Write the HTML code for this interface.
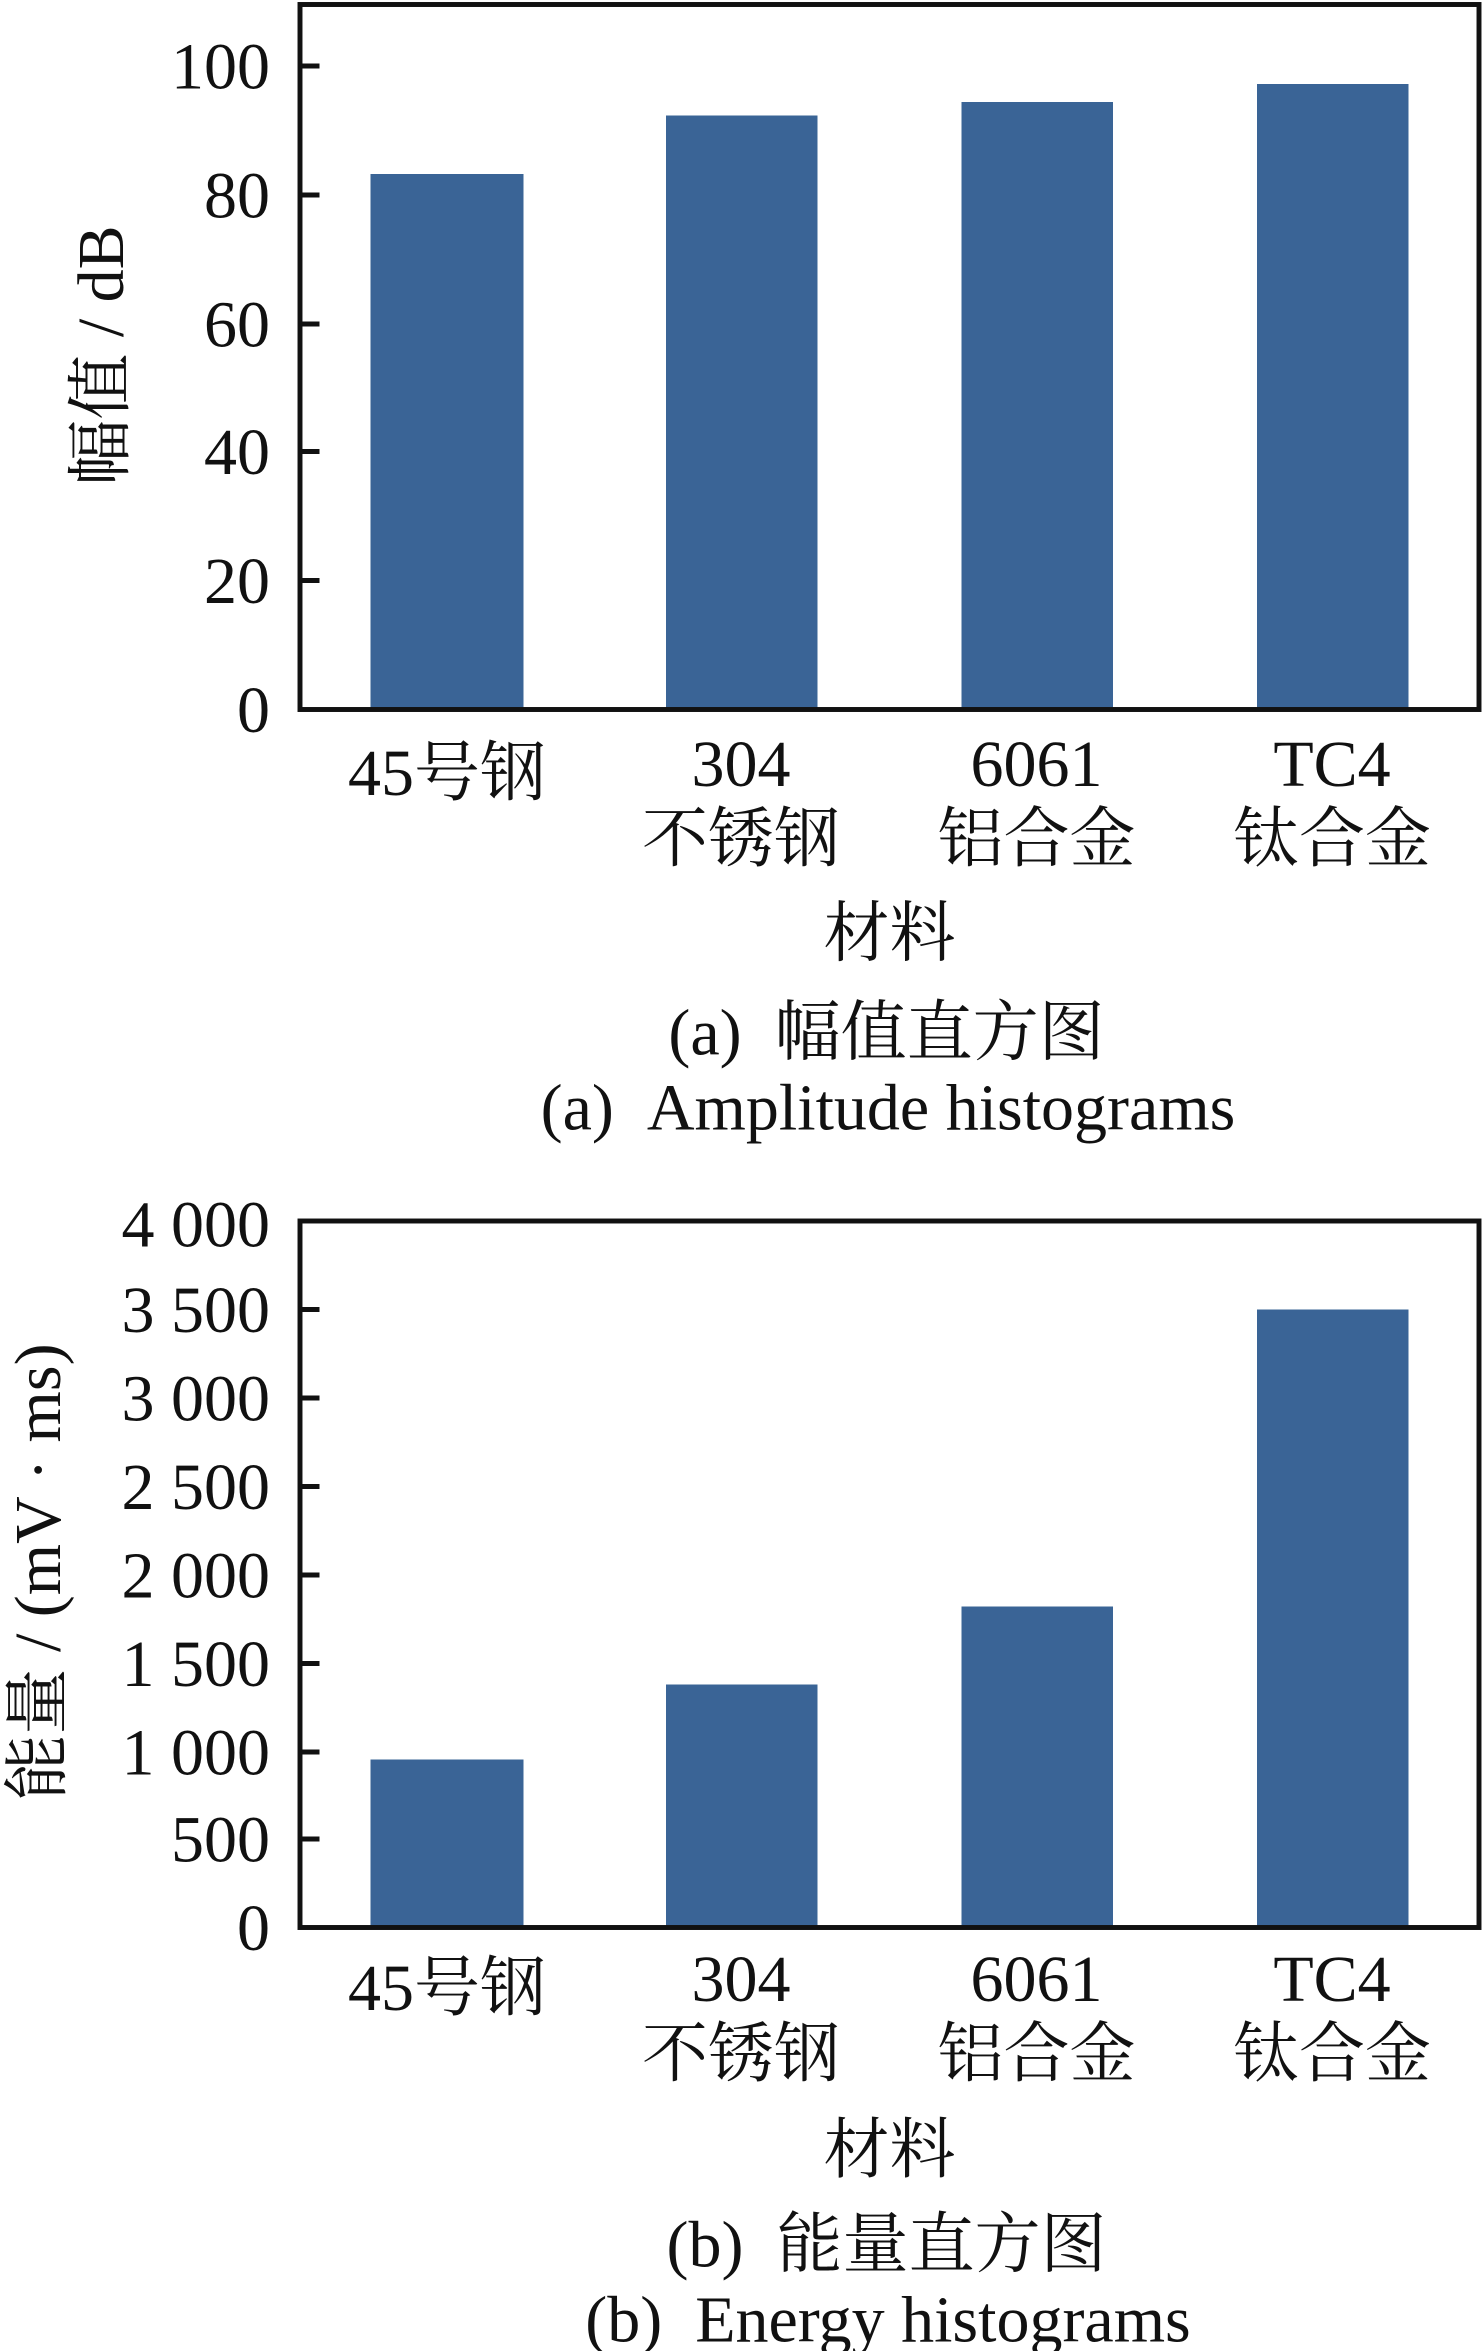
<!DOCTYPE html>
<html><head><meta charset="utf-8"><style>html,body{margin:0;padding:0;background:#fff}svg{display:block}</style></head><body>
<svg width="1482" height="2351" viewBox="0 0 988 1567.33" preserveAspectRatio="none" xmlns="http://www.w3.org/2000/svg">
<g font-family="'Liberation Serif','Noto Serif CJK SC',serif" fill="#111">
<!-- Chart A -->
<g fill="#3a6496">
<rect x="247" y="116" width="102" height="357"/>
<rect x="444" y="77" width="101" height="396"/>
<rect x="641" y="68" width="101" height="405"/>
<rect x="838" y="56" width="101" height="417"/>
</g>
<rect x="200" y="3" width="786" height="470" fill="none" stroke="#111" stroke-width="3.3"/>
<g stroke="#111" stroke-width="3.3">
<line x1="200" y1="44" x2="213" y2="44"/><line x1="200" y1="130" x2="213" y2="130"/>
<line x1="200" y1="216" x2="213" y2="216"/><line x1="200" y1="301" x2="213" y2="301"/>
<line x1="200" y1="387" x2="213" y2="387"/>
</g>
<g font-size="44" text-anchor="end">
<text x="180" y="59">100</text><text x="180" y="145">80</text><text x="180" y="231">60</text>
<text x="180" y="316">40</text><text x="180" y="402">20</text><text x="180" y="488">0</text>
</g>
<text transform="translate(82,237) rotate(-90)" font-size="44" text-anchor="middle">幅值 / dB</text>
<g font-size="44" text-anchor="middle">
<text x="298" y="530">45号钢</text>
<text x="494" y="524">304</text><text x="494" y="574">不锈钢</text>
<text x="691" y="524">6061</text><text x="691" y="574">铝合金</text>
<text x="888" y="524">TC4</text><text x="888" y="574">钛合金</text>
<text x="593" y="637">材料</text>
<text x="591" y="703">(a)&#160;&#160;幅值直方图</text>
<text x="592" y="753">(a)&#160;&#160;Amplitude histograms</text>
</g>
<!-- Chart B -->
<g fill="#3a6496">
<rect x="247" y="1173" width="102" height="112"/>
<rect x="444" y="1123" width="101" height="162"/>
<rect x="641" y="1071" width="101" height="214"/>
<rect x="838" y="873" width="101" height="412"/>
</g>
<rect x="200" y="814" width="786" height="471" fill="none" stroke="#111" stroke-width="3.3"/>
<g stroke="#111" stroke-width="3.3">
<line x1="200" y1="873" x2="213" y2="873"/><line x1="200" y1="932" x2="213" y2="932"/>
<line x1="200" y1="991" x2="213" y2="991"/><line x1="200" y1="1050" x2="213" y2="1050"/>
<line x1="200" y1="1109" x2="213" y2="1109"/><line x1="200" y1="1168" x2="213" y2="1168"/>
<line x1="200" y1="1226" x2="213" y2="1226"/>
</g>
<g font-size="44" text-anchor="end">
<text x="180" y="831">4 000</text><text x="180" y="888">3 500</text><text x="180" y="947">3 000</text>
<text x="180" y="1006">2 500</text><text x="180" y="1065">2 000</text><text x="180" y="1124">1 500</text>
<text x="180" y="1183">1 000</text><text x="180" y="1241">500</text><text x="180" y="1300">0</text>
</g>
<text transform="translate(40,1048) rotate(-90)" font-size="44" text-anchor="middle">能量 / (mV · ms)</text>
<g font-size="44" text-anchor="middle">
<text x="298" y="1340">45号钢</text>
<text x="494" y="1334">304</text><text x="494" y="1384">不锈钢</text>
<text x="691" y="1334">6061</text><text x="691" y="1384">铝合金</text>
<text x="888" y="1334">TC4</text><text x="888" y="1384">钛合金</text>
<text x="593" y="1448">材料</text>
<text x="591" y="1511">(b)&#160;&#160;能量直方图</text>
<text x="592" y="1561">(b)&#160;&#160;Energy histograms</text>
</g>
</g>
</svg>
</body></html>
